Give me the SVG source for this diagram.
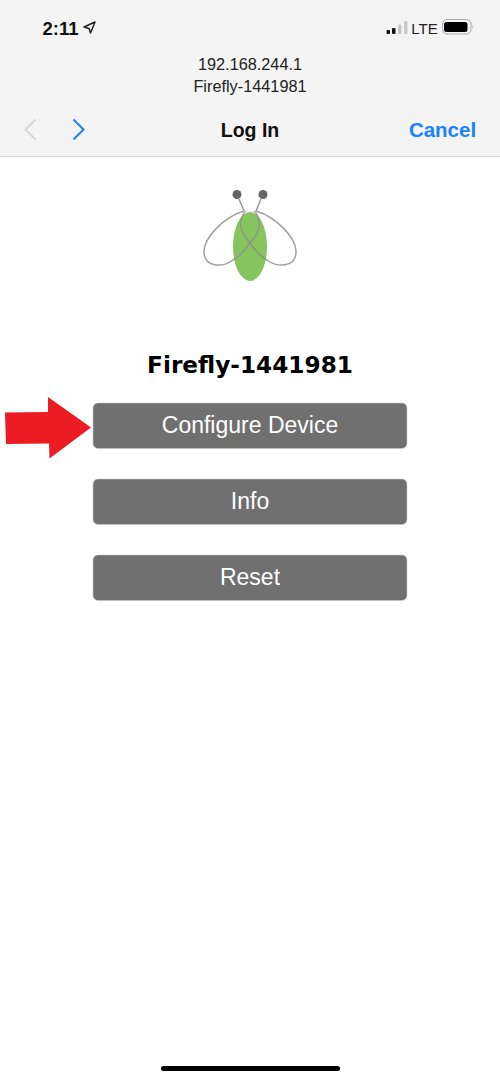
<svg xmlns="http://www.w3.org/2000/svg" width="500" height="1082" viewBox="0 0 500 1082">
<style>
text{font-family:"Liberation Sans",Arial,sans-serif;text-anchor:middle}
.btn{fill:#707071;stroke:#c8c8c8;stroke-width:.6}
.bt{fill:#fff;font-size:23px}
.url{fill:#222;font-size:16.3px}
.wing{fill:none;stroke:#8f8f8f;stroke-width:1.5;opacity:.85}
</style>
<rect width="500" height="1082" fill="#fff"/>
<g id="header">
<rect width="500" height="156" fill="#f4f4f4"/>
<rect y="156" width="500" height="1" fill="#d8d8d8"/>
<text x="60.500" y="34.500" style="font-size:18.500px;font-weight:bold" fill="#111">2:11</text>
<path d="M95 22L84 27L89 28.500L90.500 33Z" fill="none" stroke="#222" stroke-width="1.500" stroke-linejoin="round"/>
<rect x="386.500" y="30" width="3.500" height="4" rx="1" fill="#111"/>
<rect x="392" y="28" width="3.500" height="6" rx="1" fill="#111"/>
<rect x="398" y="24.500" width="3.500" height="9.500" rx="1" fill="#c8c8c8"/>
<rect x="404" y="21" width="3.500" height="13" rx="1" fill="#c8c8c8"/>
<text x="424.500" y="34" style="font-size:15px" fill="#222">LTE</text>
<rect x="442.500" y="19.500" width="28.500" height="14.500" rx="4.500" fill="none" stroke="#aaa" stroke-width="1"/>
<rect x="444" y="22" width="23.500" height="10" rx="2.500" fill="#000"/>
<path d="M472.500 24.500q1.500 2.500 0 5z" fill="#aaa"/>
<text class="url" x="250" y="69.500">192.168.244.1</text>
<text class="url" x="250" y="91.500">Firefly-1441981</text>
<path d="M35.500 119.500L25.500 129.500L35.500 139.500" fill="none" stroke="#d6d6d6" stroke-width="2"/>
<path d="M73.500 119.500L83.500 129.500L73.500 139.500" fill="none" stroke="#1a82fb" stroke-width="2"/>
<text x="250" y="136.500" style="font-size:19.500px;font-weight:bold" fill="#111">Log In</text>
<text x="442.500" y="136.500" style="font-size:20.500px;font-weight:bold" fill="#1a82fb">Cancel</text>
</g>
<g id="logo">
<ellipse cx="250" cy="246.500" rx="17" ry="34.500" fill="#86c45e"/>
<path class="wing" d="M244 211C224 217 203 238 204 253C205 267 222 268 233 260C241 255 246 249 250 243C256 236 261 227 259 220C258 216 257 213 254 211"/>
<path class="wing" d="M256 211C276 217 297 238 296 253C295 267 278 268 267 260C259 255 254 249 250 243C244 236 239 227 241 220C242 216 243 213 246 211"/>
<path d="M244 211L239 199M256 211L261 199" stroke="#9a9a9a" stroke-width="1.500" fill="none"/>
<circle cx="237" cy="194.500" r="4.500" fill="#666"/>
<circle cx="263" cy="194.500" r="4.500" fill="#666"/>
</g>
<g id="title"><text x="250" y="373" style="font-family:'DejaVu Sans',sans-serif;font-size:23.200px;font-weight:bold" fill="#000">Firefly-1441981</text></g>
<g id="configure"><rect class="btn" x="93" y="403" width="314" height="45.500" rx="5"/><text class="bt" x="250" y="433">Configure Device</text></g>
<g id="info"><rect class="btn" x="93" y="479" width="314" height="45.500" rx="5"/><text class="bt" x="250" y="509">Info</text></g>
<g id="reset"><rect class="btn" x="93" y="555" width="314" height="45.500" rx="5"/><text class="bt" x="250" y="585">Reset</text></g>
<g id="connectors"><path d="M5 412.500L48 412L48 397L91 427.500L49.500 458.500L49 443.500L6 444Z" fill="#ed1c24"/></g>
<g id="home"><rect x="161" y="1066" width="179" height="5" rx="2.500" fill="#000"/></g>
</svg>
